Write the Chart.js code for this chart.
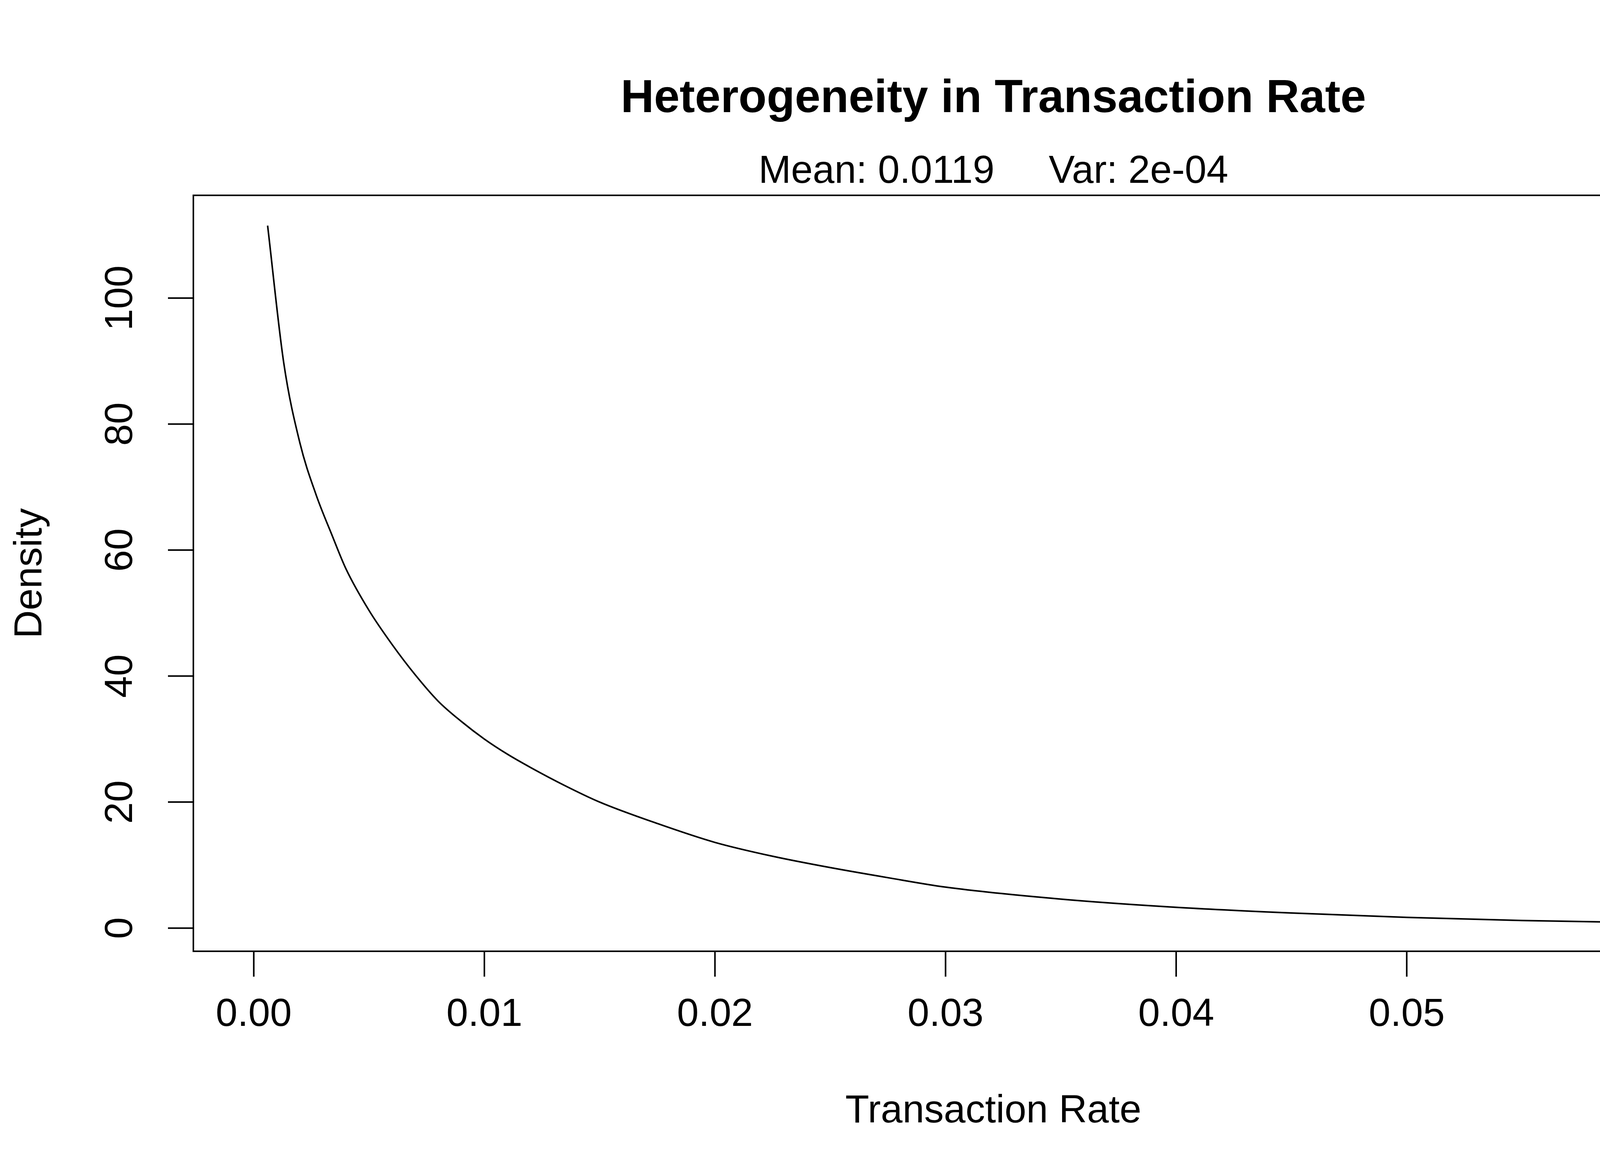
<!DOCTYPE html>
<html><head><meta charset="utf-8">
<script src="https://cdn.jsdelivr.net/npm/chart.js@4"></script>
<style>html,body{margin:0;padding:0;background:#fff;overflow:hidden}canvas{display:block}</style>
</head><body>
<canvas id="c" width="4800" height="3000" style="width:4800px;height:3000px"></canvas>
<script>
const xValues = [0.0006,0.0013,0.002,0.0027,0.0034,0.004,0.005,0.006,0.007,0.008,0.009,0.01,0.011,0.012,0.0135,0.015,0.0175,0.02,0.0225,0.025,0.0275,0.03,0.035,0.04,0.045,0.05,0.055,0.06,0.0643];
const densityValues = [111.5,89.7,77,68.8,62.3,57,50.4,45,40.2,36,32.8,30,27.6,25.5,22.6,20,16.6,13.6,11.4,9.6,8,6.5,4.6,3.3,2.4,1.7,1.2,0.9,0.7];
const xTicks = [0,0.01,0.02,0.03,0.04,0.05,0.06];
const xTickLabels = ["0.00","0.01","0.02","0.03","0.04","0.05","0.06"];
const yTicks = [0,20,40,60,80,100];
const titleText = "Heterogeneity in Transaction Rate";
const subtitleText = "Mean: 0.0119     Var: 2e-04";
const xTitle = "Transaction Rate", yTitle = "Density";
const F = '"Liberation Sans", Arial, sans-serif';

const rPlot = {
  id:'rPlot',
  afterDraw(chart){
    const ctx = chart.ctx, a = chart.chartArea, xs = chart.scales.x, ys = chart.scales.y;
    ctx.save();
    ctx.strokeStyle='#000'; ctx.fillStyle='#000'; ctx.lineWidth=4;
    ctx.strokeRect(a.left,a.top,a.right-a.left,a.bottom-a.top);
    const tl=65;
    const x0=xs.getPixelForValue(xTicks[0]), x1=xs.getPixelForValue(xTicks[xTicks.length-1]);
    ctx.beginPath(); ctx.moveTo(x0,a.bottom); ctx.lineTo(x1,a.bottom);
    xTicks.forEach(v=>{const p=xs.getPixelForValue(v); ctx.moveTo(p,a.bottom); ctx.lineTo(p,a.bottom+tl);});
    const y0=ys.getPixelForValue(yTicks[0]), y1=ys.getPixelForValue(yTicks[yTicks.length-1]);
    ctx.moveTo(a.left,y0); ctx.lineTo(a.left,y1);
    yTicks.forEach(v=>{const p=ys.getPixelForValue(v); ctx.moveTo(a.left,p); ctx.lineTo(a.left-tl,p);});
    ctx.stroke();
    ctx.font='100px '+F; ctx.textAlign='center'; ctx.textBaseline='middle';
    xTicks.forEach((v,i)=>ctx.fillText(xTickLabels[i], xs.getPixelForValue(v), 2598));
    yTicks.forEach(v=>{const p=ys.getPixelForValue(v); ctx.save(); ctx.translate(310,p); ctx.rotate(-Math.PI/2); ctx.fillText(String(v),0,0); ctx.restore();});
    ctx.fillText(xTitle, 2543, 2845);
    ctx.save(); ctx.translate(78,(a.top+a.bottom)/2); ctx.rotate(-Math.PI/2); ctx.fillText(yTitle,0,0); ctx.restore();
    ctx.fillText(subtitleText, 2543, 440);
    ctx.font='bold 118px '+F;
    ctx.fillText(titleText, 2543, 254);
    ctx.restore();
  }
};

new Chart(document.getElementById('c'), {
  type:'line',
  data:{datasets:[{data:xValues.map((x,i)=>({x:x,y:densityValues[i]})),borderColor:'#000',borderWidth:4,pointRadius:0,cubicInterpolationMode:'monotone',fill:false}]},
  options:{
    responsive:false, animation:false, devicePixelRatio:1,
    layout:{padding:{left:495,right:207,top:500,bottom:565}},
    plugins:{legend:{display:false},tooltip:{enabled:false}},
    scales:{
      x:{type:'linear',min:-0.00262,max:0.0668,display:false},
      y:{type:'linear',min:-3.68,max:116.3,display:false}
    }
  },
  plugins:[rPlot]
});
</script>
</body></html>
